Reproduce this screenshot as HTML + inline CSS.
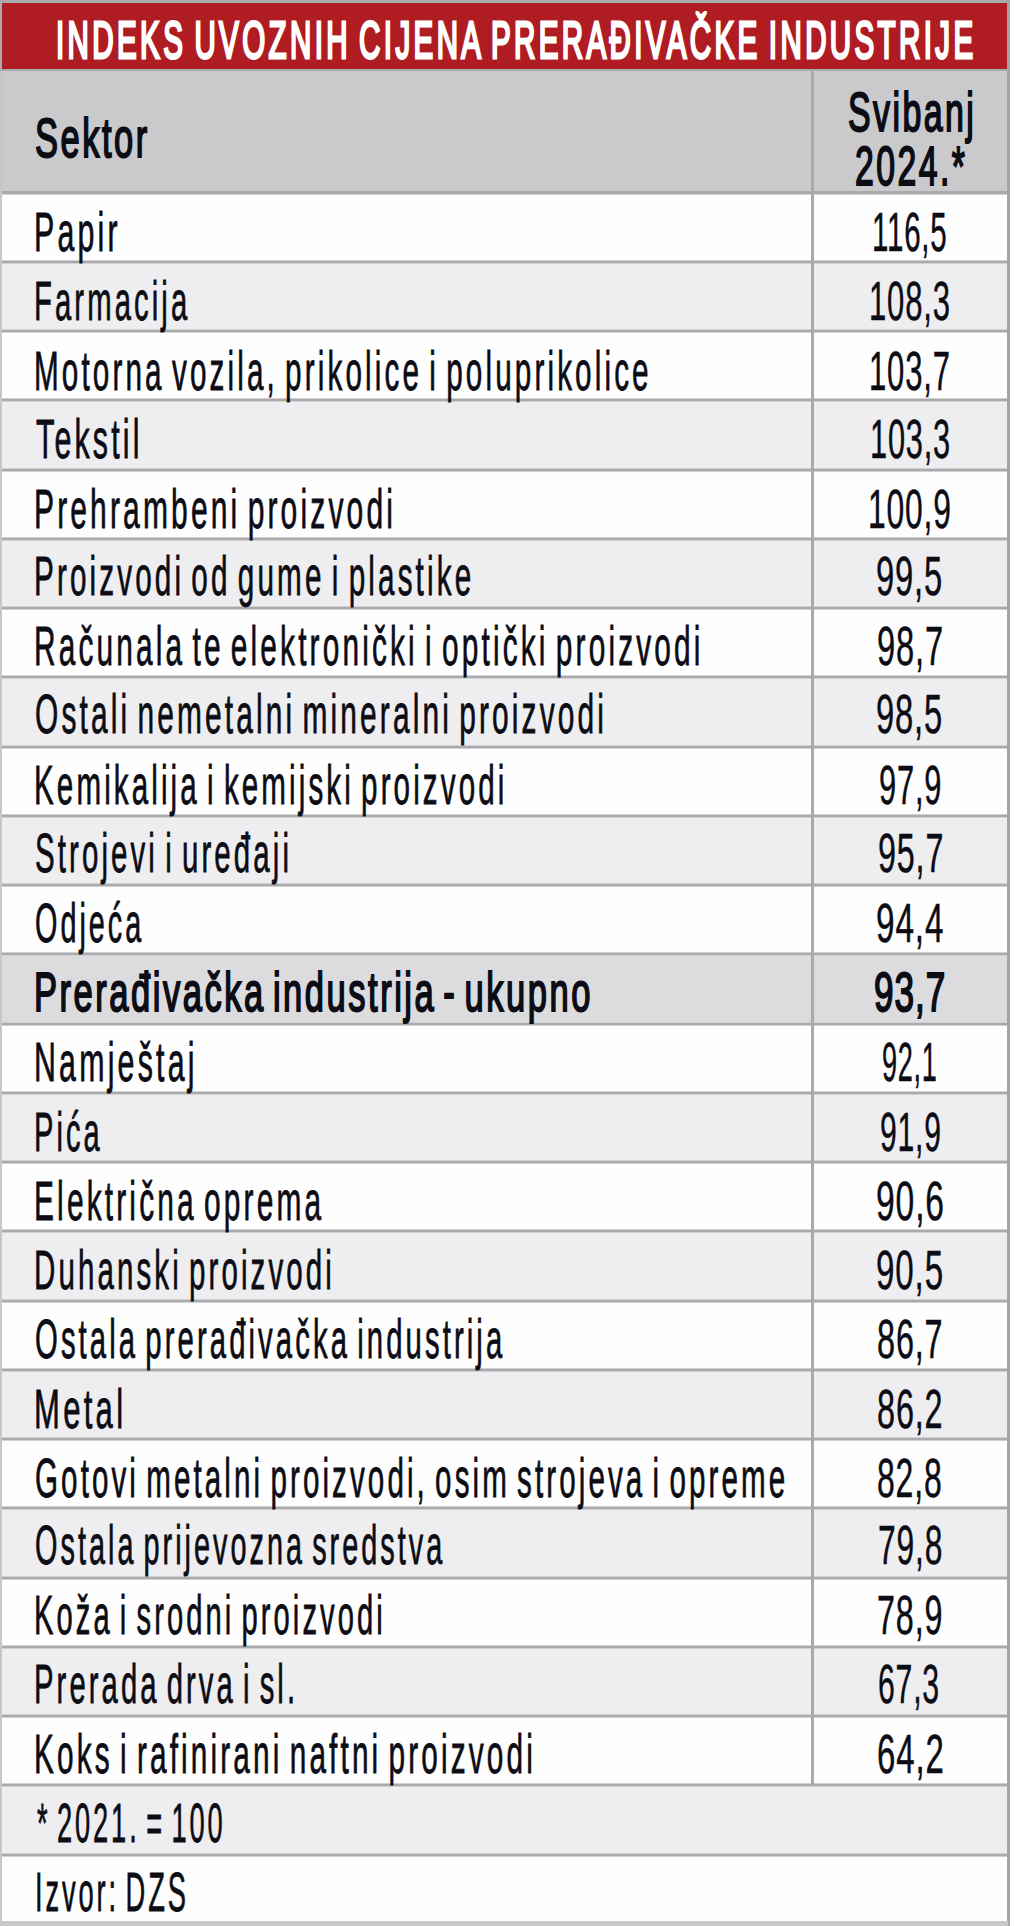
<!DOCTYPE html>
<html><head><meta charset="utf-8"><style>*{margin:0;padding:0}
html,body{width:1024px;height:1926px;background:#fff;overflow:hidden;position:relative;font-family:"Liberation Sans",sans-serif;color:#0c0c14}
.a{position:absolute}
.t{position:absolute;white-space:nowrap;font-size:57px;line-height:57px;transform-origin:0 48px;letter-spacing:6.0px;word-spacing:-8.0px;-webkit-text-stroke:0.8px #0c0c14}
.b{-webkit-text-stroke:2.0px #0c0c14;font-size:55px;line-height:55px;transform-origin:0 46px;letter-spacing:4.0px}
.w{color:#fff;-webkit-text-stroke:3.0px #fff;font-size:52px;line-height:52px;transform-origin:0 44px;word-spacing:-6.0px;letter-spacing:4.0px}
</style></head><body>
<div class="a" style="left:0px;top:0px;width:1010px;height:1926px;background:#aaaaad"></div>
<div class="a" style="left:0px;top:0px;width:1010px;height:3px;background:#a9abad"></div>
<div class="a" style="left:2px;top:3px;width:1006px;height:66px;background:#af1c22"></div>
<div class="a" style="left:2px;top:71px;width:809px;height:120px;background:#cacacd"></div>
<div class="a" style="left:814px;top:71px;width:194px;height:120px;background:#cacacd"></div>
<div class="a" style="left:2px;top:194px;width:809px;height:67px;background:#fefeff"></div>
<div class="a" style="left:814px;top:194px;width:194px;height:67px;background:#fefeff"></div>
<div class="a" style="left:2px;top:194px;width:809px;height:1px;background:#d2d2d5"></div>
<div class="a" style="left:814px;top:194px;width:194px;height:1px;background:#d2d2d5"></div>
<div class="a" style="left:2px;top:260px;width:809px;height:1px;background:#d2d2d5"></div>
<div class="a" style="left:814px;top:260px;width:194px;height:1px;background:#d2d2d5"></div>
<div class="a" style="left:2px;top:263px;width:809px;height:67px;background:#eeeef1"></div>
<div class="a" style="left:814px;top:263px;width:194px;height:67px;background:#eeeef1"></div>
<div class="a" style="left:2px;top:263px;width:809px;height:1px;background:#d2d2d5"></div>
<div class="a" style="left:814px;top:263px;width:194px;height:1px;background:#d2d2d5"></div>
<div class="a" style="left:2px;top:329px;width:809px;height:1px;background:#d2d2d5"></div>
<div class="a" style="left:814px;top:329px;width:194px;height:1px;background:#d2d2d5"></div>
<div class="a" style="left:2px;top:332px;width:809px;height:67px;background:#fefeff"></div>
<div class="a" style="left:814px;top:332px;width:194px;height:67px;background:#fefeff"></div>
<div class="a" style="left:2px;top:332px;width:809px;height:1px;background:#d2d2d5"></div>
<div class="a" style="left:814px;top:332px;width:194px;height:1px;background:#d2d2d5"></div>
<div class="a" style="left:2px;top:398px;width:809px;height:1px;background:#d2d2d5"></div>
<div class="a" style="left:814px;top:398px;width:194px;height:1px;background:#d2d2d5"></div>
<div class="a" style="left:2px;top:401px;width:809px;height:68px;background:#eeeef1"></div>
<div class="a" style="left:814px;top:401px;width:194px;height:68px;background:#eeeef1"></div>
<div class="a" style="left:2px;top:401px;width:809px;height:1px;background:#d2d2d5"></div>
<div class="a" style="left:814px;top:401px;width:194px;height:1px;background:#d2d2d5"></div>
<div class="a" style="left:2px;top:468px;width:809px;height:1px;background:#d2d2d5"></div>
<div class="a" style="left:814px;top:468px;width:194px;height:1px;background:#d2d2d5"></div>
<div class="a" style="left:2px;top:471px;width:809px;height:67px;background:#fefeff"></div>
<div class="a" style="left:814px;top:471px;width:194px;height:67px;background:#fefeff"></div>
<div class="a" style="left:2px;top:471px;width:809px;height:1px;background:#d2d2d5"></div>
<div class="a" style="left:814px;top:471px;width:194px;height:1px;background:#d2d2d5"></div>
<div class="a" style="left:2px;top:537px;width:809px;height:1px;background:#d2d2d5"></div>
<div class="a" style="left:814px;top:537px;width:194px;height:1px;background:#d2d2d5"></div>
<div class="a" style="left:2px;top:540px;width:809px;height:67px;background:#eeeef1"></div>
<div class="a" style="left:814px;top:540px;width:194px;height:67px;background:#eeeef1"></div>
<div class="a" style="left:2px;top:540px;width:809px;height:1px;background:#d2d2d5"></div>
<div class="a" style="left:814px;top:540px;width:194px;height:1px;background:#d2d2d5"></div>
<div class="a" style="left:2px;top:606px;width:809px;height:1px;background:#d2d2d5"></div>
<div class="a" style="left:814px;top:606px;width:194px;height:1px;background:#d2d2d5"></div>
<div class="a" style="left:2px;top:609px;width:809px;height:67px;background:#fefeff"></div>
<div class="a" style="left:814px;top:609px;width:194px;height:67px;background:#fefeff"></div>
<div class="a" style="left:2px;top:609px;width:809px;height:1px;background:#d2d2d5"></div>
<div class="a" style="left:814px;top:609px;width:194px;height:1px;background:#d2d2d5"></div>
<div class="a" style="left:2px;top:675px;width:809px;height:1px;background:#d2d2d5"></div>
<div class="a" style="left:814px;top:675px;width:194px;height:1px;background:#d2d2d5"></div>
<div class="a" style="left:2px;top:678px;width:809px;height:68px;background:#eeeef1"></div>
<div class="a" style="left:814px;top:678px;width:194px;height:68px;background:#eeeef1"></div>
<div class="a" style="left:2px;top:678px;width:809px;height:1px;background:#d2d2d5"></div>
<div class="a" style="left:814px;top:678px;width:194px;height:1px;background:#d2d2d5"></div>
<div class="a" style="left:2px;top:745px;width:809px;height:1px;background:#d2d2d5"></div>
<div class="a" style="left:814px;top:745px;width:194px;height:1px;background:#d2d2d5"></div>
<div class="a" style="left:2px;top:748px;width:809px;height:67px;background:#fefeff"></div>
<div class="a" style="left:814px;top:748px;width:194px;height:67px;background:#fefeff"></div>
<div class="a" style="left:2px;top:748px;width:809px;height:1px;background:#d2d2d5"></div>
<div class="a" style="left:814px;top:748px;width:194px;height:1px;background:#d2d2d5"></div>
<div class="a" style="left:2px;top:814px;width:809px;height:1px;background:#d2d2d5"></div>
<div class="a" style="left:814px;top:814px;width:194px;height:1px;background:#d2d2d5"></div>
<div class="a" style="left:2px;top:817px;width:809px;height:67px;background:#eeeef1"></div>
<div class="a" style="left:814px;top:817px;width:194px;height:67px;background:#eeeef1"></div>
<div class="a" style="left:2px;top:817px;width:809px;height:1px;background:#d2d2d5"></div>
<div class="a" style="left:814px;top:817px;width:194px;height:1px;background:#d2d2d5"></div>
<div class="a" style="left:2px;top:883px;width:809px;height:1px;background:#d2d2d5"></div>
<div class="a" style="left:814px;top:883px;width:194px;height:1px;background:#d2d2d5"></div>
<div class="a" style="left:2px;top:886px;width:809px;height:67px;background:#fefeff"></div>
<div class="a" style="left:814px;top:886px;width:194px;height:67px;background:#fefeff"></div>
<div class="a" style="left:2px;top:886px;width:809px;height:1px;background:#d2d2d5"></div>
<div class="a" style="left:814px;top:886px;width:194px;height:1px;background:#d2d2d5"></div>
<div class="a" style="left:2px;top:952px;width:809px;height:1px;background:#d2d2d5"></div>
<div class="a" style="left:814px;top:952px;width:194px;height:1px;background:#d2d2d5"></div>
<div class="a" style="left:2px;top:955px;width:809px;height:68px;background:#dcdcdf"></div>
<div class="a" style="left:814px;top:955px;width:194px;height:68px;background:#dcdcdf"></div>
<div class="a" style="left:2px;top:955px;width:809px;height:1px;background:#d2d2d5"></div>
<div class="a" style="left:814px;top:955px;width:194px;height:1px;background:#d2d2d5"></div>
<div class="a" style="left:2px;top:1022px;width:809px;height:1px;background:#d2d2d5"></div>
<div class="a" style="left:814px;top:1022px;width:194px;height:1px;background:#d2d2d5"></div>
<div class="a" style="left:2px;top:1025px;width:809px;height:67px;background:#fefeff"></div>
<div class="a" style="left:814px;top:1025px;width:194px;height:67px;background:#fefeff"></div>
<div class="a" style="left:2px;top:1025px;width:809px;height:1px;background:#d2d2d5"></div>
<div class="a" style="left:814px;top:1025px;width:194px;height:1px;background:#d2d2d5"></div>
<div class="a" style="left:2px;top:1091px;width:809px;height:1px;background:#d2d2d5"></div>
<div class="a" style="left:814px;top:1091px;width:194px;height:1px;background:#d2d2d5"></div>
<div class="a" style="left:2px;top:1094px;width:809px;height:67px;background:#eeeef1"></div>
<div class="a" style="left:814px;top:1094px;width:194px;height:67px;background:#eeeef1"></div>
<div class="a" style="left:2px;top:1094px;width:809px;height:1px;background:#d2d2d5"></div>
<div class="a" style="left:814px;top:1094px;width:194px;height:1px;background:#d2d2d5"></div>
<div class="a" style="left:2px;top:1160px;width:809px;height:1px;background:#d2d2d5"></div>
<div class="a" style="left:814px;top:1160px;width:194px;height:1px;background:#d2d2d5"></div>
<div class="a" style="left:2px;top:1163px;width:809px;height:67px;background:#fefeff"></div>
<div class="a" style="left:814px;top:1163px;width:194px;height:67px;background:#fefeff"></div>
<div class="a" style="left:2px;top:1163px;width:809px;height:1px;background:#d2d2d5"></div>
<div class="a" style="left:814px;top:1163px;width:194px;height:1px;background:#d2d2d5"></div>
<div class="a" style="left:2px;top:1229px;width:809px;height:1px;background:#d2d2d5"></div>
<div class="a" style="left:814px;top:1229px;width:194px;height:1px;background:#d2d2d5"></div>
<div class="a" style="left:2px;top:1232px;width:809px;height:68px;background:#eeeef1"></div>
<div class="a" style="left:814px;top:1232px;width:194px;height:68px;background:#eeeef1"></div>
<div class="a" style="left:2px;top:1232px;width:809px;height:1px;background:#d2d2d5"></div>
<div class="a" style="left:814px;top:1232px;width:194px;height:1px;background:#d2d2d5"></div>
<div class="a" style="left:2px;top:1299px;width:809px;height:1px;background:#d2d2d5"></div>
<div class="a" style="left:814px;top:1299px;width:194px;height:1px;background:#d2d2d5"></div>
<div class="a" style="left:2px;top:1302px;width:809px;height:67px;background:#fefeff"></div>
<div class="a" style="left:814px;top:1302px;width:194px;height:67px;background:#fefeff"></div>
<div class="a" style="left:2px;top:1302px;width:809px;height:1px;background:#d2d2d5"></div>
<div class="a" style="left:814px;top:1302px;width:194px;height:1px;background:#d2d2d5"></div>
<div class="a" style="left:2px;top:1368px;width:809px;height:1px;background:#d2d2d5"></div>
<div class="a" style="left:814px;top:1368px;width:194px;height:1px;background:#d2d2d5"></div>
<div class="a" style="left:2px;top:1371px;width:809px;height:67px;background:#eeeef1"></div>
<div class="a" style="left:814px;top:1371px;width:194px;height:67px;background:#eeeef1"></div>
<div class="a" style="left:2px;top:1371px;width:809px;height:1px;background:#d2d2d5"></div>
<div class="a" style="left:814px;top:1371px;width:194px;height:1px;background:#d2d2d5"></div>
<div class="a" style="left:2px;top:1437px;width:809px;height:1px;background:#d2d2d5"></div>
<div class="a" style="left:814px;top:1437px;width:194px;height:1px;background:#d2d2d5"></div>
<div class="a" style="left:2px;top:1440px;width:809px;height:67px;background:#fefeff"></div>
<div class="a" style="left:814px;top:1440px;width:194px;height:67px;background:#fefeff"></div>
<div class="a" style="left:2px;top:1440px;width:809px;height:1px;background:#d2d2d5"></div>
<div class="a" style="left:814px;top:1440px;width:194px;height:1px;background:#d2d2d5"></div>
<div class="a" style="left:2px;top:1506px;width:809px;height:1px;background:#d2d2d5"></div>
<div class="a" style="left:814px;top:1506px;width:194px;height:1px;background:#d2d2d5"></div>
<div class="a" style="left:2px;top:1509px;width:809px;height:68px;background:#eeeef1"></div>
<div class="a" style="left:814px;top:1509px;width:194px;height:68px;background:#eeeef1"></div>
<div class="a" style="left:2px;top:1509px;width:809px;height:1px;background:#d2d2d5"></div>
<div class="a" style="left:814px;top:1509px;width:194px;height:1px;background:#d2d2d5"></div>
<div class="a" style="left:2px;top:1576px;width:809px;height:1px;background:#d2d2d5"></div>
<div class="a" style="left:814px;top:1576px;width:194px;height:1px;background:#d2d2d5"></div>
<div class="a" style="left:2px;top:1579px;width:809px;height:67px;background:#fefeff"></div>
<div class="a" style="left:814px;top:1579px;width:194px;height:67px;background:#fefeff"></div>
<div class="a" style="left:2px;top:1579px;width:809px;height:1px;background:#d2d2d5"></div>
<div class="a" style="left:814px;top:1579px;width:194px;height:1px;background:#d2d2d5"></div>
<div class="a" style="left:2px;top:1645px;width:809px;height:1px;background:#d2d2d5"></div>
<div class="a" style="left:814px;top:1645px;width:194px;height:1px;background:#d2d2d5"></div>
<div class="a" style="left:2px;top:1648px;width:809px;height:67px;background:#eeeef1"></div>
<div class="a" style="left:814px;top:1648px;width:194px;height:67px;background:#eeeef1"></div>
<div class="a" style="left:2px;top:1648px;width:809px;height:1px;background:#d2d2d5"></div>
<div class="a" style="left:814px;top:1648px;width:194px;height:1px;background:#d2d2d5"></div>
<div class="a" style="left:2px;top:1714px;width:809px;height:1px;background:#d2d2d5"></div>
<div class="a" style="left:814px;top:1714px;width:194px;height:1px;background:#d2d2d5"></div>
<div class="a" style="left:2px;top:1717px;width:809px;height:67px;background:#fefeff"></div>
<div class="a" style="left:814px;top:1717px;width:194px;height:67px;background:#fefeff"></div>
<div class="a" style="left:2px;top:1717px;width:809px;height:1px;background:#d2d2d5"></div>
<div class="a" style="left:814px;top:1717px;width:194px;height:1px;background:#d2d2d5"></div>
<div class="a" style="left:2px;top:1783px;width:809px;height:1px;background:#d2d2d5"></div>
<div class="a" style="left:814px;top:1783px;width:194px;height:1px;background:#d2d2d5"></div>
<div class="a" style="left:2px;top:1786px;width:1006px;height:68px;background:#eeeef1"></div>
<div class="a" style="left:2px;top:1786px;width:1006px;height:1px;background:#d2d2d5"></div>
<div class="a" style="left:2px;top:1853px;width:1006px;height:1px;background:#d2d2d5"></div>
<div class="a" style="left:2px;top:1856px;width:1006px;height:67px;background:#fefeff"></div>
<div class="a" style="left:2px;top:1856px;width:1006px;height:1px;background:#d2d2d5"></div>
<div class="a" style="left:2px;top:1922px;width:1006px;height:1px;background:#d2d2d5"></div>
<div class="a" style="left:0px;top:1921px;width:1008px;height:5px;background:#c8c8ca"></div>
<div class="a" style="left:0px;top:71px;width:2px;height:1850px;background:#c6c7ca"></div>
<div class="a" style="left:1007px;top:0px;width:3px;height:1921px;background:#a4a4a8"></div>
<div class="a" style="left:1010px;top:0px;width:14px;height:1926px;background:#ffffff"></div>
<div class="t w" style="left:56.15px;top:14.0px;transform:scale(0.5671,1);letter-spacing:6.0px">INDEKS UVOZNIH CIJENA PRERAĐIVAČKE INDUSTRIJE</div>
<div class="t b" style="left:35.45px;top:111.0px;transform:scale(0.6264,1);letter-spacing:4.0px">Sektor</div>
<div class="t b" style="left:847.76px;top:85.0px;transform:scale(0.6158,1);letter-spacing:4.0px">Svibanj</div>
<div class="t b" style="left:854.53px;top:139.0px;transform:scale(0.6140,1);letter-spacing:4.0px">2024.*</div>
<div class="t" style="left:33.84px;top:203.0px;transform:scale(0.5322,0.975);letter-spacing:6.0px">Papir</div>
<div class="t" style="left:871.89px;top:203.0px;transform:scale(0.5171,0.975);letter-spacing:1.5px;-webkit-text-stroke-width:0.5px">116,5</div>
<div class="t" style="left:33.92px;top:272.0px;transform:scale(0.5137,0.975);letter-spacing:6.0px">Farmacija</div>
<div class="t" style="left:869.20px;top:272.0px;transform:scale(0.5444,0.975);letter-spacing:1.5px;-webkit-text-stroke-width:0.5px">108,3</div>
<div class="t" style="left:33.89px;top:342.0px;transform:scale(0.5206,0.975);letter-spacing:6.0px">Motorna vozila, prikolice i poluprikolice</div>
<div class="t" style="left:869.20px;top:342.0px;transform:scale(0.5444,0.975);letter-spacing:1.5px;-webkit-text-stroke-width:0.5px">103,7</div>
<div class="t" style="left:35.74px;top:410.0px;transform:scale(0.5328,0.975);letter-spacing:6.0px">Tekstil</div>
<div class="t" style="left:870.02px;top:410.0px;transform:scale(0.5389,0.975);letter-spacing:1.5px;-webkit-text-stroke-width:0.5px">103,3</div>
<div class="t" style="left:33.87px;top:480.0px;transform:scale(0.5260,0.975);letter-spacing:6.0px">Prehrambeni proizvodi</div>
<div class="t" style="left:868.15px;top:480.0px;transform:scale(0.5584,0.975);letter-spacing:1.5px;-webkit-text-stroke-width:0.5px">100,9</div>
<div class="t" style="left:33.89px;top:547.0px;transform:scale(0.5206,0.975);letter-spacing:6.0px">Proizvodi od gume i plastike</div>
<div class="t" style="left:875.91px;top:547.0px;transform:scale(0.5741,0.975);letter-spacing:1.5px;-webkit-text-stroke-width:0.5px">99,5</div>
<div class="t" style="left:33.88px;top:617.0px;transform:scale(0.5235,0.975);letter-spacing:6.0px">Računala te elektronički i optički proizvodi</div>
<div class="t" style="left:876.81px;top:617.0px;transform:scale(0.5732,0.975);letter-spacing:1.5px;-webkit-text-stroke-width:0.5px">98,7</div>
<div class="t" style="left:34.81px;top:685.0px;transform:scale(0.5240,0.975);letter-spacing:6.0px">Ostali nemetalni mineralni proizvodi</div>
<div class="t" style="left:875.91px;top:685.0px;transform:scale(0.5741,0.975);letter-spacing:1.5px;-webkit-text-stroke-width:0.5px">98,5</div>
<div class="t" style="left:33.90px;top:756.0px;transform:scale(0.5187,0.975);letter-spacing:6.0px">Kemikalija i kemijski proizvodi</div>
<div class="t" style="left:878.69px;top:756.0px;transform:scale(0.5408,0.975);letter-spacing:1.5px;-webkit-text-stroke-width:0.5px">97,9</div>
<div class="t" style="left:35.29px;top:824.0px;transform:scale(0.5167,0.975);letter-spacing:6.0px">Strojevi i uređaji</div>
<div class="t" style="left:877.63px;top:824.0px;transform:scale(0.5660,0.975);letter-spacing:1.5px;-webkit-text-stroke-width:0.5px">95,7</div>
<div class="t" style="left:34.85px;top:894.0px;transform:scale(0.5046,0.975);letter-spacing:6.0px">Odjeća</div>
<div class="t" style="left:875.88px;top:894.0px;transform:scale(0.5847,0.975);letter-spacing:1.5px;-webkit-text-stroke-width:0.5px">94,4</div>
<div class="t b" style="left:33.93px;top:965.0px;transform:scale(0.6282,1);letter-spacing:4.0px">Prerađivačka industrija - ukupno</div>
<div class="t b" style="left:874.49px;top:965.0px;transform:scale(0.6391,1);letter-spacing:1.5px">93,7</div>
<div class="t" style="left:33.84px;top:1033.0px;transform:scale(0.5323,0.975);letter-spacing:6.0px">Namještaj</div>
<div class="t" style="left:881.55px;top:1033.0px;transform:scale(0.4759,0.975);letter-spacing:1.5px;-webkit-text-stroke-width:0.5px">92,1</div>
<div class="t" style="left:33.93px;top:1103.0px;transform:scale(0.5096,0.975);letter-spacing:6.0px">Pića</div>
<div class="t" style="left:879.72px;top:1103.0px;transform:scale(0.5281,0.975);letter-spacing:1.5px;-webkit-text-stroke-width:0.5px">91,9</div>
<div class="t" style="left:33.87px;top:1172.0px;transform:scale(0.5247,0.975);letter-spacing:6.0px">Električna oprema</div>
<div class="t" style="left:875.87px;top:1172.0px;transform:scale(0.5894,0.975);letter-spacing:1.5px;-webkit-text-stroke-width:0.5px">90,6</div>
<div class="t" style="left:33.90px;top:1241.0px;transform:scale(0.5175,0.975);letter-spacing:6.0px">Duhanski proizvodi</div>
<div class="t" style="left:875.89px;top:1241.0px;transform:scale(0.5813,0.975);letter-spacing:1.5px;-webkit-text-stroke-width:0.5px">90,5</div>
<div class="t" style="left:34.83px;top:1310.0px;transform:scale(0.5141,0.975);letter-spacing:6.0px">Ostala prerađivačka industrija</div>
<div class="t" style="left:877.33px;top:1310.0px;transform:scale(0.5686,0.975);letter-spacing:1.5px;-webkit-text-stroke-width:0.5px">86,7</div>
<div class="t" style="left:33.79px;top:1380.0px;transform:scale(0.5450,0.975);letter-spacing:6.0px">Metal</div>
<div class="t" style="left:877.33px;top:1380.0px;transform:scale(0.5686,0.975);letter-spacing:1.5px;-webkit-text-stroke-width:0.5px">86,2</div>
<div class="t" style="left:34.82px;top:1449.0px;transform:scale(0.5183,0.975);letter-spacing:6.0px">Gotovi metalni proizvodi, osim strojeva i opreme</div>
<div class="t" style="left:877.34px;top:1449.0px;transform:scale(0.5606,0.975);letter-spacing:1.5px;-webkit-text-stroke-width:0.5px">82,8</div>
<div class="t" style="left:34.85px;top:1516.0px;transform:scale(0.5055,0.975);letter-spacing:6.0px">Ostala prijevozna sredstva</div>
<div class="t" style="left:877.65px;top:1516.0px;transform:scale(0.5579,0.975);letter-spacing:1.5px;-webkit-text-stroke-width:0.5px">79,8</div>
<div class="t" style="left:33.93px;top:1586.0px;transform:scale(0.5118,0.975);letter-spacing:6.0px">Koža i srodni proizvodi</div>
<div class="t" style="left:876.93px;top:1586.0px;transform:scale(0.5669,0.975);letter-spacing:1.5px;-webkit-text-stroke-width:0.5px">78,9</div>
<div class="t" style="left:33.92px;top:1655.0px;transform:scale(0.5130,0.975);letter-spacing:6.0px">Prerada drva i sl.</div>
<div class="t" style="left:878.32px;top:1655.0px;transform:scale(0.5299,0.975);letter-spacing:1.5px;-webkit-text-stroke-width:0.5px">67,3</div>
<div class="t" style="left:33.88px;top:1725.0px;transform:scale(0.5224,0.975);letter-spacing:6.0px">Koks i rafinirani naftni proizvodi</div>
<div class="t" style="left:876.90px;top:1725.0px;transform:scale(0.5786,0.975);letter-spacing:1.5px;-webkit-text-stroke-width:0.5px">64,2</div>
<div class="t" style="left:37.27px;top:1794.0px;transform:scale(0.4778,0.975);letter-spacing:6.0px">* 2021. = 100</div>
<div class="t" style="left:34.66px;top:1863.0px;transform:scale(0.4787,0.975);letter-spacing:6.0px">Izvor: DZS</div>
</body></html>
